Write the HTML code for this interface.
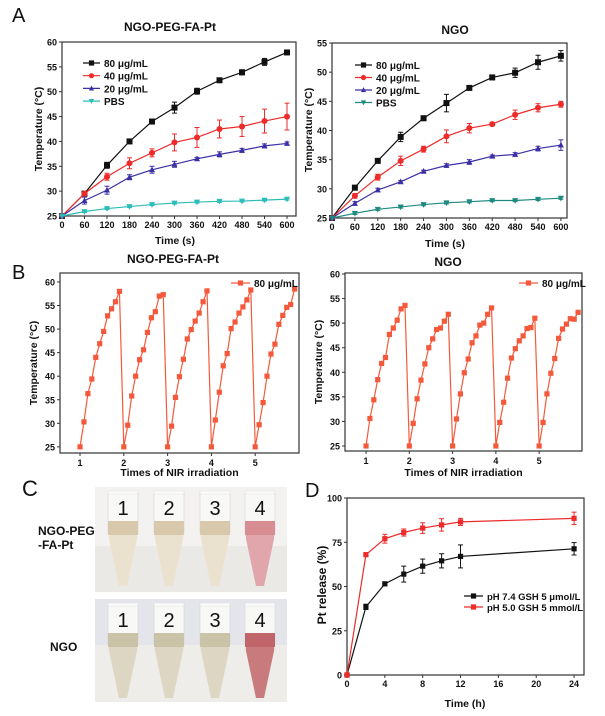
<!DOCTYPE html>
<html><head><meta charset="utf-8"><style>
html,body{margin:0;padding:0;background:#fff;}
svg{display:block;font-family:"Liberation Sans",Arial,sans-serif;}
text{font-weight:bold;fill:#111;}
</style></head><body>
<svg id="fig" width="605" height="716" viewBox="0 0 605 716" xmlns="http://www.w3.org/2000/svg">
<g>
  <text x="22" y="496" font-size="22" font-weight="normal" style="font-weight:normal">C</text>
  <text x="38" y="535" font-size="12">NGO-PEG</text>
  <text x="38" y="549" font-size="12">-FA-Pt</text>
  <text x="50" y="651" font-size="12">NGO</text>
  <rect x="95" y="487" width="192" height="105" fill="#f3f2f0"/>
  <rect x="95" y="546" width="192" height="46" fill="#ebe9e6"/>
  <rect x="95" y="599" width="192" height="103" fill="#e3e5ea"/>
  <rect x="95" y="645" width="192" height="57" fill="#eeedea"/>
  <g id="tubes"></g>
</g>
<g id="charts"></g>
</svg>
<script>
// ---------- Panel A data ----------
const timesA = [0,60,120,180,240,300,360,420,480,540,600];
const aLeft80 = [25,29.5,35.2,40,44,46.8,50.1,52.3,53.9,56,57.9];
const aLeft80Err = [0,0.3,0.6,0.2,0.5,1.1,0.6,0.4,0.5,0.7,0.4];
const aLeft40 = [25,29.5,32.9,35.6,37.7,39.8,40.8,42.5,43,44.1,45];
const aLeft40Err = [0,0.3,0.7,1.1,0.8,1.7,2,1.8,2,2.4,2.7];
const aLeft20 = [25,28.1,30.2,32.8,34.3,35.4,36.5,37.4,38.2,39.1,39.6];
const aLeft20Err = [0,0.7,0.8,0.5,0.7,0.6,0.3,0.5,0.4,0.4,0.3];
const aLeftPBS = [25,25.9,26.5,26.9,27.3,27.6,27.8,27.95,28,28.2,28.4];
const aLeftPBSErr = [0,0.2,0.2,0.2,0.2,0.2,0.2,0.2,0.2,0.2,0.2];
const aRight80 = [25,30.2,34.8,38.9,42.1,44.7,47.3,49.1,49.9,51.7,52.8];
const aRight80Err = [0,0.4,0.4,0.8,0.4,1.5,0.3,0.4,0.8,1.2,0.9];
const aRight40 = [25,28.8,32,34.8,36.8,39,40.4,41.1,42.7,43.9,44.5];
const aRight40Err = [0,0.4,0.5,0.8,0.5,1.1,0.8,0.3,0.8,0.7,0.5];
const aRight20 = [25,27.5,29.8,31.2,33,34,34.6,35.6,35.9,36.9,37.5];
const aRight20Err = [0,0.3,0.3,0.2,0.2,0.3,0.4,0.2,0.3,0.4,0.9];
const aRightPBS = [25,25.8,26.5,26.9,27.3,27.6,27.8,28,28,28.2,28.4];
const aRightPBSErr = [0,0.2,0.2,0.2,0.2,0.2,0.2,0.2,0.2,0.2,0.2];
const concLabels = ["80 μg/mL","40 μg/mL","20 μg/mL","PBS"];
const xTicksA = [0,60,120,180,240,300,360,420,480,540,600];
const yTicksALeft = [25,30,35,40,45,50,55,60];
const yTicksARight = [25,30,35,40,45,50,55];
// ---------- Panel B data (5 irradiation cycles, 11 points each) ----------
const cycleStarts = [1,2,3,4,5];
const cycleStep = 0.09;
const bLeftCycles = [
 [25,30.3,36.3,39.4,44,46.9,49.5,52.8,54.3,55.8,58],
 [25,29.6,35.8,40,43.5,45.6,49.3,52.4,53.7,57,57.3],
 [25,29.4,35.5,39.9,43.6,47.9,49.9,51.7,53.4,55.8,58.1],
 [25,30.7,36.6,42.2,44.8,50.1,51.5,53.4,54.7,56.2,58.3],
 [25,29.7,34.4,40,44.7,46.8,51,52.9,54.6,55.2,58.5]];
const bRightCycles = [
 [25,30.6,34.4,38.5,41.8,43,47.7,49,50.6,52.9,53.6],
 [25,29.6,34.6,38.4,41.7,45,46.8,48.7,49,50.4,51.8],
 [25,30.5,35.6,39.9,42.7,46,47.4,49.6,50,51.8,53.1],
 [25,29.8,33.9,38.8,42.9,44.8,46.4,47.4,48.9,49.1,51],
 [25,29.8,35.6,39.8,42.8,46.9,48.8,49.8,50.9,50.8,52.2]];
const xTicksB = [1,2,3,4,5];
const yTicksB = [25,30,35,40,45,50,55,60];
// ---------- Panel D data ----------
const timesD = [0,2,4,6,8,10,12,24];
const dPH74 = [0,38.5,51.5,57,61.5,64.5,67,71.3];
const dPH74Err = [0,1.5,1,4.5,4,4,6.5,3.5];
const dPH50 = [0,68,77,80.5,83,84.8,86.5,88.5];
const dPH50Err = [0,1,2.5,2,3,3.5,2,3.5];
const xTicksD = [0,4,8,12,16,20,24];
const yTicksD = [0,25,50,75,100];
const dLabels = ["pH 7.4  GSH 5 μmol/L","pH 5.0  GSH 5 mmol/L"];

const NS="http://www.w3.org/2000/svg";
const root=document.getElementById('charts');
function el(tag,attrs,parent){const e=document.createElementNS(NS,tag);for(const k in attrs)e.setAttribute(k,attrs[k]);(parent||root).appendChild(e);return e;}
function txt(s,x,y,size,anchor,parent,rot){const t=el('text',{x:x,y:y,'font-size':size,'text-anchor':anchor||'middle'},parent);if(rot)t.setAttribute('transform','rotate(-90 '+x+' '+y+')');t.textContent=s;return t;}
function marker(type,x,y,c,g,s){s=s||3;
 if(type==='sq')return el('rect',{x:x-s,y:y-s,width:2*s,height:2*s,fill:c},g);
 if(type==='ci')return el('circle',{cx:x,cy:y,r:s,fill:c},g);
 if(type==='tu')return el('polygon',{points:(x-s)+','+(y+s*0.8)+' '+(x+s)+','+(y+s*0.8)+' '+x+','+(y-s*1.1),fill:c},g);
 return el('polygon',{points:(x-s)+','+(y-s*0.8)+' '+(x+s)+','+(y-s*0.8)+' '+x+','+(y+s*1.1),fill:c},g);}
function axes(o){
 const sx=v=>o.x0+(v-o.xmin)/(o.xmax-o.xmin)*(o.x1-o.x0);
 const sy=v=>o.y1-(v-o.ymin)/(o.ymax-o.ymin)*(o.y1-o.y0);
 const g=el('g',{});
 
 
 const box=el('rect',{x:o.x0,y:o.y0,width:o.x1-o.x0,height:o.y1-o.y0,fill:'none',stroke:'#333','stroke-width':1.2},g);
 
 
 o.xt.forEach(v=>{el('line',{x1:sx(v),x2:sx(v),y1:o.y1,y2:o.y1+3,stroke:'#333'},g);
  const t=txt(String(v),sx(v),o.y1+o.xtOff,o.fs,'middle',g);
  
  });
 o.yt.forEach(v=>{el('line',{x1:o.x0-3,x2:o.x0,y1:sy(v),y2:sy(v),stroke:'#333'},g);
  const t=txt(String(v),o.x0-5,sy(v)+3.5,o.fs,'end',g);
  
  });
 return {sx,sy,g};}
function series(ax,xs,ys,errs,c,m,g,ms){
 const sg=el('g',{},g);
 
 
 el('polyline',{points:xs.map((x,i)=>ax.sx(x)+','+ax.sy(ys[i])).join(' '),fill:'none',stroke:c,'stroke-width':1.2},sg);
 if(errs)xs.forEach((x,i)=>{if(!errs[i])return;const X=ax.sx(x),a=ax.sy(ys[i]-errs[i]),b=ax.sy(ys[i]+errs[i]);
  el('line',{x1:X,x2:X,y1:a,y2:b,stroke:c,'stroke-width':1},sg);
  el('line',{x1:X-2.5,x2:X+2.5,y1:a,y2:a,stroke:c,'stroke-width':1},sg);
  el('line',{x1:X-2.5,x2:X+2.5,y1:b,y2:b,stroke:c,'stroke-width':1},sg);});
 xs.forEach((x,i)=>{const mk=marker(m,ax.sx(x),ax.sy(ys[i]),c,sg,ms);
  
  });}
function legendRow(g,x1,x2,y,c,m,label,fs){
 const lg=el('g',{},g);
 
 
 el('line',{x1:x1,x2:x2,y1:y,y2:y,stroke:c,'stroke-width':1.2},lg);
 marker(m,(x1+x2)/2,y,c,lg,2.6);
 txt(label,x2+4,y+4,fs,'start',lg);}

const colsA=['#111','#ee2a2a','#3b2fa6'];
const mks=['sq','ci','tu','td'];
// Panel A left
{const ax=axes({name:'chart-a-left',x0:62,x1:296,y0:42,y1:216,xmin:0,xmax:624,ymin:25,ymax:60,xt:xTicksA,yt:yTicksALeft,fs:9,xtOff:12});
 const d=[[aLeft80,aLeft80Err],[aLeft40,aLeft40Err],[aLeft20,aLeft20Err],[aLeftPBS,aLeftPBSErr]];
 const cs=colsA.concat(['#2bbdb9']);
 d.forEach((s,i)=>series(ax,timesA,s[0],s[1],cs[i],mks[i],ax.g));
 d.forEach((s,i)=>legendRow(ax.g,83,100,63+i*12.7,cs[i],mks[i],concLabels[i],10));
 txt('NGO-PEG-FA-Pt',170,31,12,'middle',ax.g);
 txt('Temperature (°C)',42,129,10.5,'middle',ax.g,true);
 txt('Time (s)',175,244,10.5,'middle',ax.g);
 const A=txt('A',12,22,20,'start',ax.g);A.style.fontWeight='normal';}
// Panel A right
{const ax=axes({name:'chart-a-right',x0:332,x1:567,y0:43,y1:218,xmin:0,xmax:616,ymin:25,ymax:55,xt:xTicksA,yt:yTicksARight,fs:9,xtOff:12});
 const d=[[aRight80,aRight80Err],[aRight40,aRight40Err],[aRight20,aRight20Err],[aRightPBS,aRightPBSErr]];
 const cs=colsA.concat(['#1f8a80']);
 d.forEach((s,i)=>series(ax,timesA,s[0],s[1],cs[i],mks[i],ax.g));
 d.forEach((s,i)=>legendRow(ax.g,355,372,65+i*12.5,cs[i],mks[i],concLabels[i],10));
 txt('NGO',455,34,12,'middle',ax.g);
 txt('Temperature (°C)',312,130,10.5,'middle',ax.g,true);
 txt('Time (s)',445,247,10.5,'middle',ax.g);}
// Panel B
function cycleChart(name,o,cycles,title,tx,ty,lx){
 const ax=axes(o);const c='#f5593b';
 const xs=[],ys=[];
 cycles.forEach((cy,k)=>cy.forEach((v,i)=>{xs.push(cycleStarts[k]+i*cycleStep);ys.push(v);}));
 series(ax,xs,ys,null,c,'sq',ax.g,2.6);
 legendRow(ax.g,lx,lx+19,o.y0+10,c,'sq','80 μg/mL',10);
 txt(title,tx,ty,12,'middle',ax.g);
 txt('Temperature (°C)',o.x0-23,(o.y0+o.y1)/2,10.5,'middle',ax.g,true);
 txt('Times of NIR irradiation',(o.x0+o.x1)/2,476,10.5,'middle',ax.g);
 return ax;}
{const ax=cycleChart('chart-b-left',{name:'chart-b-left',x0:60,x1:299,y0:273,y1:453,xmin:0.543,xmax:6.0,ymin:23.7,ymax:61.9,xt:xTicksB,yt:yTicksB,fs:9,xtOff:13},bLeftCycles,'NGO-PEG-FA-Pt',173,263,231);
 const B=txt('B',12,279,20,'start',ax.g);B.style.fontWeight='normal';}
cycleChart('chart-b-right',{name:'chart-b-right',x0:345,x1:582,y0:273,y1:451,xmin:0.514,xmax:5.99,ymin:23.98,ymax:60.2,xt:xTicksB,yt:yTicksB,fs:9,xtOff:13},bRightCycles,'NGO',448,266,519);
// Panel D
{const ax=axes({name:'chart-d',x0:347,x1:584,y0:498,y1:675,xmin:0,xmax:25.05,ymin:0,ymax:100,xt:xTicksD,yt:yTicksD,fs:9,xtOff:12});
 series(ax,timesD,dPH74,dPH74Err,'#111','sq',ax.g,2.6);
 series(ax,timesD,dPH50,dPH50Err,'#ee2a2a','sq',ax.g,2.6);
 legendRow(ax.g,464,483,596,'#111','sq',dLabels[0],9.5);
 legendRow(ax.g,464,483,607,'#ee2a2a','sq',dLabels[1],9.5);
 txt('Pt release (%)',326,585,12,'middle',ax.g,true);
 txt('Time (h)',465,707,10.5,'middle',ax.g);
 const D=txt('D',305,497,20,'start',ax.g);D.style.fontWeight='normal';}
// Tubes in photo
const tubes=document.getElementById('tubes');
const tubeX=[123,169,215,260];
[[487,'#d8c9ad','#ebe1cf'],[599,'#cbc3a8','#dcd6c2']].forEach((row,r)=>{
 tubeX.forEach((x,i)=>{
  const red=i===3;const top=row[0];
  const g=el('g',{},tubes);
  
  
  el('rect',{x:x-15,y:top+6,width:30,height:40,fill:'#f8f8f7',stroke:'#d4d4d4','stroke-width':0.6},g);
  el('polygon',{points:(x-15)+','+(top+36)+' '+(x+15)+','+(top+36)+' '+(x+14)+','+(top+52)+' '+(x+4)+','+(top+99)+' '+(x-4)+','+(top+99)+' '+(x-14)+','+(top+52),fill:red?(r?'#c87a7d':'#e0a6ab'):row[2]},g);
  el('rect',{x:x-15,y:top+34,width:30,height:14,fill:red?(r?'#c0666a':'#d88d93'):row[1]},g);
  el('rect',{x:x-15,y:top+4,width:30,height:3,fill:'#fbfbfb',stroke:'#ddd','stroke-width':0.5},g);
  const t=txt(String(i+1),x,top+28,20,'middle',g);t.style.fontWeight='normal';
 });});
</script>
</body></html>
